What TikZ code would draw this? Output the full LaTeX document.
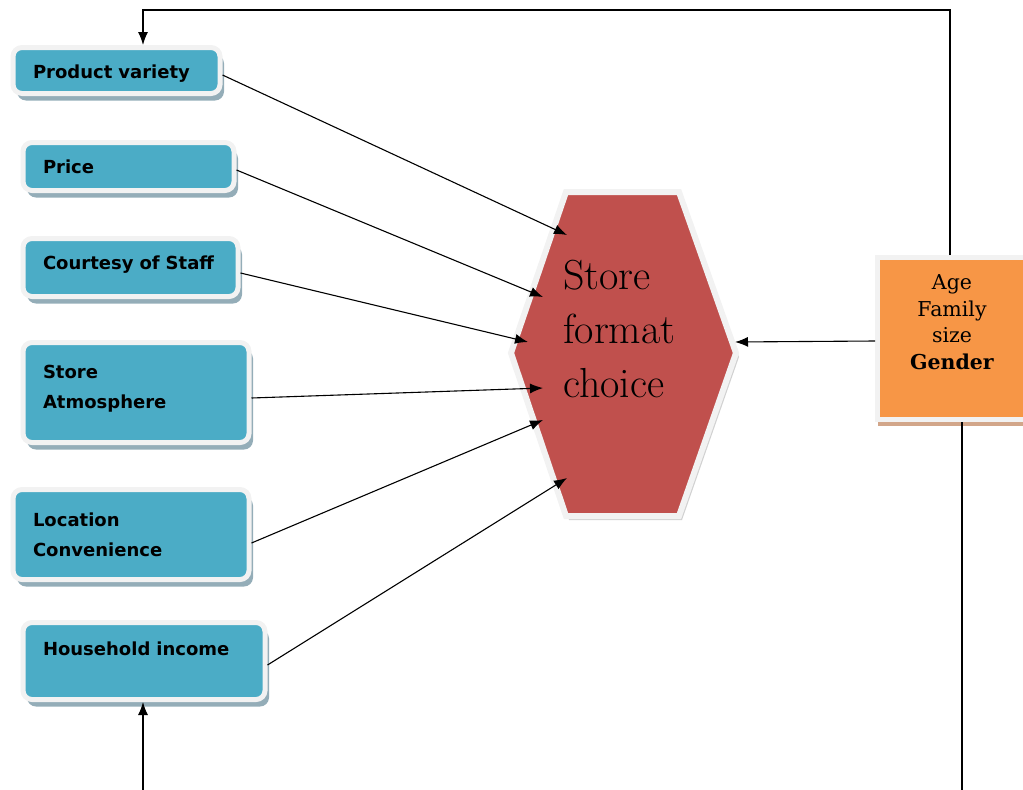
\documentclass[tikz,border=0pt]{standalone}
\usepackage{fontspec}
\newfontfamily\boxfont{DejaVu Sans}
\newfontfamily\agefont{DejaVu Serif}
\usetikzlibrary{arrows.meta}
\usetikzlibrary{shadows}
\usetikzlibrary{calc}
\usepackage{xcolor}
\definecolor{boxblue}{HTML}{4BACC6}
\definecolor{hexred}{HTML}{C0504D}
\definecolor{ageorange}{HTML}{F79646}
\definecolor{rim}{HTML}{F2F2F2}
\definecolor{boxshade}{HTML}{94ADB8}
\definecolor{ageshade}{HTML}{D2A68A}

\begin{document}
\begin{tikzpicture}[x=1pt,y=-1pt,
    factor/.style={draw=rim, line width=5pt, fill=boxblue, rounded corners=9pt,
      align=left, inner xsep=20pt, font=\boxfont\bfseries\fontsize{18}{30}\selectfont,
      drop shadow={shadow xshift=4pt, shadow yshift=-7pt, fill=boxshade, opacity=1}},
    agebox/.style={draw=rim, line width=5pt, fill=ageorange, minimum width=149pt,
      minimum height=162pt, align=center, font=\agefont\fontsize{20.5}{26.5}\selectfont,
      drop shadow={shadow xshift=0pt, shadow yshift=-6pt, fill=ageshade, opacity=1}},
    hexa/.style={draw=rim, line width=6pt, fill=hexred, line join=miter,
      drop shadow={shadow xshift=3pt, shadow yshift=-4pt, fill=gray!60, opacity=.6}},
    arr/.style={line width=1.1pt, -{Latex[length=13pt,width=10pt]}}]
      \useasboundingbox (0,0) rectangle (1023,790);

      % Factors
      \node[factor, text width=167pt, minimum height=46pt, text height=19pt] (pv) at (116.5,70.5) {Product variety};
      \node[factor, text width=171pt, minimum height=48pt] (price) at (128.5,166.5) {Price};
      \node[factor, text width=175pt, minimum height=58pt, text depth=9.5pt] (staff) at (130.5,267.5) {Courtesy of Staff};
      \node[factor, text width=186pt, minimum height=100pt, text depth=42pt] (atmos) at (136,392.5) {Store\\Atmosphere};
      \node[factor, text width=196pt, minimum height=90pt] (loc) at (131,534.5) {Location\\Convenience};
      \node[factor, text width=202pt, minimum height=77pt, text depth=24.5pt] (hi) at (144,661) {Household income};

      % Store format choice
      \draw[hexa] (566,192) -- (679,192) -- (736,353) -- (679,516) -- (566,516) -- (511,353) -- cycle;
      \node[anchor=west, align=left, inner sep=0pt, font=\fontsize{42}{54}\selectfont] (sfc) at (563,329) {Store\\format\\choice};

      % Profile
      \node[agebox, text depth=33pt] (age) at (952,338.5) {Age\\Family\\size\\\textbf{Gender}};

      % Arrows into the hexagon
      \coordinate (t1) at (567,235);
      \coordinate (t2) at (543,297);
      \coordinate (t3) at (528,342);
      \coordinate (t4) at (543,388);
      \coordinate (t5) at (543,420);
      \coordinate (t6) at (567,478);
      \coordinate (t7) at (735,342);
      \foreach \b/\dy/\t in {pv/4.5/t1, price/3.5/t2, staff/5.5/t3, atmos/5.5/t4, loc/8.5/t5, hi/4/t6}
      {
        \draw[arr] ([yshift=-\dy pt]\b.east) -- (\t);
      }
      \draw[arr] ([yshift=-2.5pt]age.west) -- (t7);

      % Feedback lines
      \coordinate (ctop) at (143,10);
      \coordinate (cbot) at (143,790);
      \coordinate (cend) at (962,790);
      \draw[arr] ([xshift=-2pt]age.north) |- (ctop) -- ([xshift=26.5pt]pv.north);
      \draw[arr] (cbot) -- ([xshift=-1pt]hi.south);
      \draw[line width=1.1pt] ([xshift=10pt]age.south) -- (cend);

  \end{tikzpicture}
\end{document}
